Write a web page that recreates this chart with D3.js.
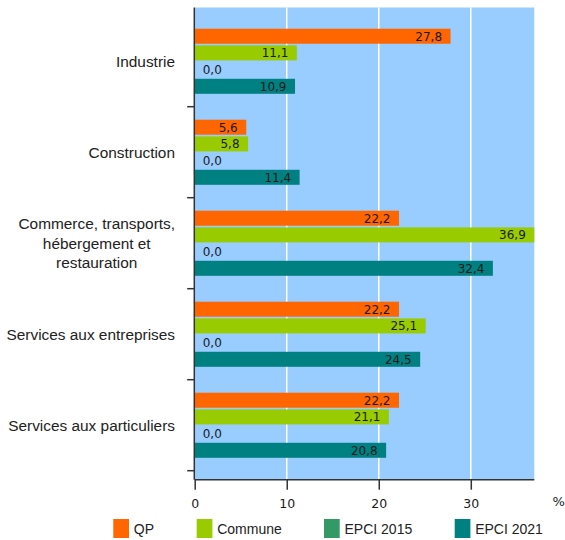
<!DOCTYPE html>
<html><head><meta charset="utf-8">
<script src="https://cdn.jsdelivr.net/npm/d3@7"></script>
<style>body{margin:0;background:#fff}svg{display:block}</style>
</head><body>
<script>
const categories = [["Industrie"],["Construction"],["Commerce, transports,","hébergement et","restauration"],["Services aux entreprises"],["Services aux particuliers"]];
const seriesNames = ["QP","Commune","EPCI 2015","EPCI 2021"];
const seriesColors = ["#FF6600","#99CC00","#339966","#008080"];
const qp = [27.8,5.6,22.2,22.2,22.2];
const commune = [11.1,5.8,36.9,25.1,21.1];
const epci2015 = [0,0,0,0,0];
const epci2021 = [10.9,11.4,32.4,24.5,20.8];
const xTicks = [0,10,20,30];
const values = [qp,commune,epci2015,epci2021];

const W=565,H=540;
const svg=d3.select("body").append("svg").attr("width",W).attr("height",H);
const plot={l:194.7,r:534.3,t:7.5,b:479.7};
const x=d3.scaleLinear().domain([0,36.9]).range([plot.l,plot.r]);
const y=d3.scaleBand().domain(d3.range(categories.length)).range([15.7,470.7]).padding(0);
const y1=d3.scaleBand().domain(d3.range(seriesNames.length)).range([13,78.1]).paddingInner(0.1).paddingOuter(0);

svg.append("rect").attr("x",plot.l).attr("y",plot.t).attr("width",plot.r-plot.l).attr("height",plot.b-plot.t).attr("fill","#99CCFF");
svg.append("g").selectAll("line").data(xTicks.filter(d=>d>0)).join("line")
 .attr("x1",d=>x(d)).attr("x2",d=>x(d)).attr("y1",plot.t).attr("y2",plot.b)
 .attr("stroke","#fff").attr("stroke-width",1.5);

const groups=svg.append("g").selectAll("g").data(categories).join("g")
 .attr("transform",(d,i)=>`translate(0,${y(i)})`);
groups.each(function(c,i){
  const g=d3.select(this);
  values.forEach((s,j)=>{
    const v=s[i];
    if(v>0) g.append("rect").attr("x",x(0)).attr("y",y1(j)).attr("width",x(v)-x(0)).attr("height",y1.bandwidth())
      .attr("fill",seriesColors[j]);
    const lbl=v.toFixed(1).replace(".",",");
    const t=g.append("text").attr("y",y1(j)+y1.bandwidth()/2).attr("dy","0.36em")
      .attr("font-family","DejaVu Sans").attr("font-size",12).attr("fill","#1a1a1a").text(lbl);
    if(v>3) t.attr("x",x(v)-8.5).attr("text-anchor","end");
    else t.attr("x",x(0)+8).attr("text-anchor","start");
  });
});

// axes
const xAxis=d3.axisBottom(x).tickValues(xTicks).tickSize(10).tickPadding(9).tickFormat(d3.format("d"));
const gx=svg.append("g").attr("transform",`translate(0,${plot.b})`).call(xAxis);
gx.select(".domain").attr("stroke","#333").attr("stroke-width",1.5).attr("d",`M${plot.l},0H${plot.r}`);
gx.selectAll(".tick line").attr("stroke","#333").attr("stroke-width",1.5);
gx.selectAll(".tick text").attr("font-family","DejaVu Sans").attr("font-size",12.5).attr("fill","#1a1a1a");
svg.append("text").attr("x",552.5).attr("y",506).attr("font-family","DejaVu Sans").attr("font-size",13).attr("fill","#1a1a1a").text("%");

svg.append("line").attr("x1",plot.l-0.4).attr("x2",plot.l-0.4).attr("y1",plot.t).attr("y2",plot.b).attr("stroke","#333").attr("stroke-width",1.5);
svg.append("g").selectAll("line").data(d3.range(1,categories.length+1)).join("line")
 .attr("x1",plot.l-7.5).attr("x2",plot.l).attr("y1",i=>y(0)+i*y.step()).attr("y2",i=>y(0)+i*y.step())
 .attr("stroke","#333").attr("stroke-width",1.5);

// category labels
const lh=19.2, right=175;
categories.forEach((lines,i)=>{
  const cy=y(i)+y.bandwidth()/2;
  const t=svg.append("text").attr("font-family","Liberation Sans, Arial").attr("font-size",15.4).attr("fill","#222");
  const spans=lines.map((ln,k)=>t.append("tspan").attr("y",cy+(k-(lines.length-1)/2)*lh).attr("dy","0.35em").text(ln));
  const widths=spans.map(s=>s.node().getComputedTextLength());
  const mw=d3.max(widths);
  spans.forEach(s=>s.attr("x",right-mw/2).attr("text-anchor","middle"));
});

// legend
const legX=[113.3,196.7,324,454.7];
seriesNames.forEach((n,j)=>{
  svg.append("rect").attr("x",legX[j]).attr("y",519).attr("width",15.7).attr("height",19).attr("fill",seriesColors[j]);
  svg.append("text").attr("x",legX[j]+20.5).attr("y",534).attr("font-family","Liberation Sans, Arial").attr("font-size",14).attr("fill","#222").text(n);
});
</script>
</body></html>
